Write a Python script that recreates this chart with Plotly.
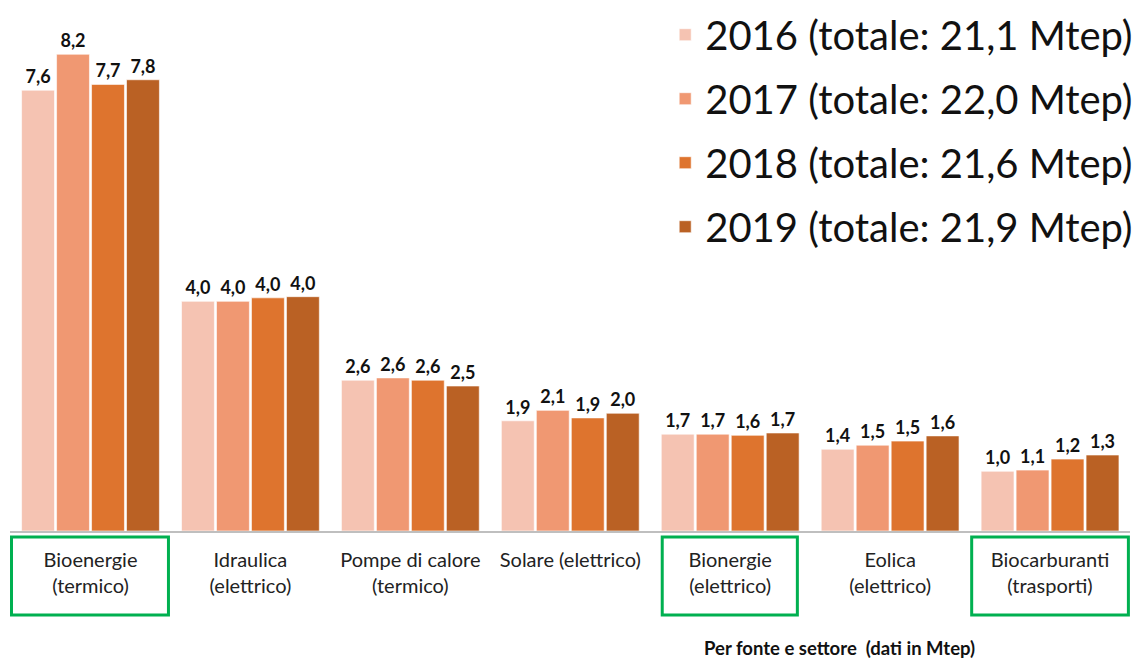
import plotly.graph_objects as go

categories = ["Bioenergie<br>(termico)", "Idraulica<br>(elettrico)", "Pompe di calore<br>(termico)",
              "Solare (elettrico)<br> ", "Bionergie<br>(elettrico)", "Eolica<br>(elettrico)",
              "Biocarburanti<br>(trasporti)"]
years = ["2016", "2017", "2018", "2019"]
totals = ["21,1", "22,0", "21,6", "21,9"]

v2016 = [7.60, 3.96, 2.60, 1.90, 1.67, 1.41, 1.03]
v2017 = [8.22, 3.96, 2.64, 2.08, 1.67, 1.48, 1.05]
v2018 = [7.70, 4.02, 2.60, 1.95, 1.65, 1.55, 1.24]
v2019 = [7.78, 4.04, 2.50, 2.03, 1.69, 1.64, 1.31]

l2016 = ["7,6", "4,0", "2,6", "1,9", "1,7", "1,4", "1,0"]
l2017 = ["8,2", "4,0", "2,6", "2,1", "1,7", "1,5", "1,1"]
l2018 = ["7,7", "4,0", "2,6", "1,9", "1,6", "1,5", "1,2"]
l2019 = ["7,8", "4,0", "2,5", "2,0", "1,7", "1,6", "1,3"]

colors = ["#F5C3B2", "#F09872", "#DE742E", "#BA6124"]

values = [v2016, v2017, v2018, v2019]
labels = [l2016, l2017, l2018, l2019]

fig = go.Figure()
for i, y in enumerate(years):
    fig.add_trace(go.Bar(
        x=categories, y=values[i], text=labels[i],
        texttemplate="<b>%{text}</b>", textposition="outside",
        textfont=dict(family="Lato", size=18, color="#111111"),
        cliponaxis=False,
        marker=dict(color=colors[i], line=dict(color="rgba(255,255,255,0.6)", width=1)),
        name=f"{y} (totale: {totals[i]} Mtep)", legendgroup=y,
    ))

fig.update_layout(
    width=1147, height=660,
    margin=dict(l=10, r=17, t=9, b=129, autoexpand=False),
    paper_bgcolor="white", plot_bgcolor="white",
    barmode="group", bargap=0.125, bargroupgap=0.06,
    showlegend=True,
    legend=dict(x=0.585, y=1.013, xanchor="left", yanchor="top",
                font=dict(family="Lato", size=40, color="#111111"),
                traceorder="grouped", tracegroupgap=9, itemwidth=30,
                bgcolor="rgba(0,0,0,0)"),
    xaxis=dict(showline=True, linecolor="#BFBFBF", linewidth=2, ticks="", automargin=False,
               ticklabelstandoff=10,
               tickfont=dict(family="Lato", size=20, color="#222222")),
    yaxis=dict(range=[0, 9.0], visible=False, showgrid=False, automargin=False),
    annotations=[dict(text="<b>Per fonte e settore  (dati in Mtep)</b>",
                      x=(839 - 10) / 1120, y=(531 - 648) / 522,
                      xref="paper", yref="paper", showarrow=False,
                      xanchor="center", yanchor="middle",
                      font=dict(family="Lato", size=18.5, color="#111111"))],
)

box_specs = [(0, -0.494, 0.4875), (4, -0.425, 0.42), (6, -0.49, 0.49)]
for idx, a, b in box_specs:
    fig.add_shape(type="rect", xref="x", yref="paper", x0=idx + a, x1=idx + b,
                  y0=-0.0115, y1=-0.161, line=dict(color="#00B050", width=3))

fig.write_html("out.html", config={"displayModeBar": False},
               post_script="document.body.style.margin='0';")
